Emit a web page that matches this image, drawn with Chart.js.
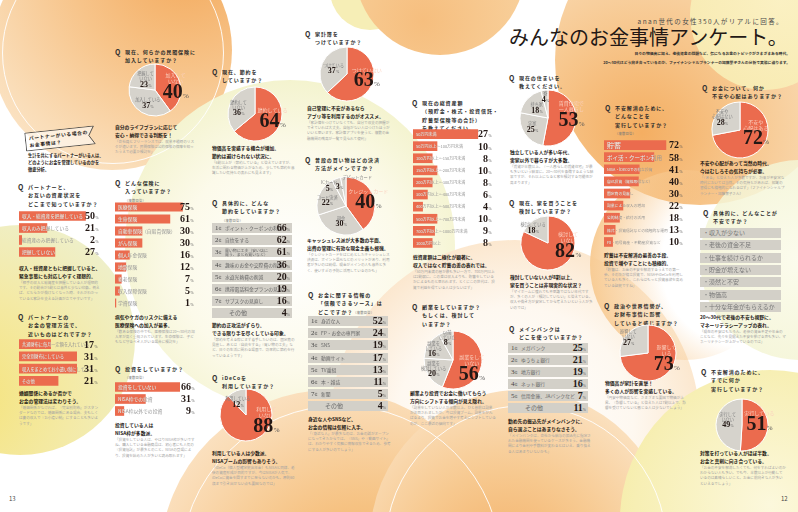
<!DOCTYPE html>
<html lang="ja">
<head>
<meta charset="UTF-8">
<title>みんなのお金事情アンケート</title>
<style>
  html, body { margin: 0; padding: 0; background: #fff; }
  #page { position: relative; width: 798px; height: 512px; overflow: hidden; background: #fff;
          font-family: "Noto Sans CJK JP", "Noto Sans", sans-serif; color: #231815; }
  .bg { position: absolute; border-radius: 50%; }
  .q { position: absolute; font-size: 5px; font-weight: 700; letter-spacing: .9px; line-height: 8.3px; white-space: nowrap; color: #2a2a2a; }
  .q i { position: absolute; left: -10px; top: 0; font-style: normal; font-size: 7px; letter-spacing: 0; color: #333; }
  .q small { font-size: 3.2px; font-weight: 400; letter-spacing: .3px; color: #777; }
  .lead { position: absolute; font-size: 4.8px; font-weight: 700; line-height: 7.6px; white-space: nowrap; color: #231815; }
  .note { position: absolute; font-size: 3.6px; line-height: 5.2px; color: #a2a2a2; }
  .rk { position: absolute; height: 10px; background: #D3D0C8; font-size: 4.8px; line-height: 10px; color: #666; white-space: nowrap; }
  .rk .n { position: absolute; left: 3px; top: 0; font-family: "Liberation Serif", serif; font-size: 7px; color: #444; }
  .rk .n span { font-family: "Noto Sans CJK JP"; font-size: 3px; }
  .rk .t { position: absolute; left: 13px; top: 0; }
  .rk .t2 { position: absolute; left: 13px; top: 1px; font-size: 3.9px; line-height: 4.3px; }
  .rk .v { position: absolute; right: 2px; top: 0; font-family: "Liberation Serif", serif; font-weight: 700; font-size: 10px; color: #231815; }
  .rk .v small { font-size: 3.8px; font-weight: 400; color: #555; }
  .wr { position: absolute; height: 10px; background: #D3D0C8; font-size: 6px; line-height: 10px; color: #777; padding-left: 3px; box-sizing: border-box; }
  canvas { position: absolute; }
</style>
</head>
<body>
<div id="page">
  <!-- 背景の円 -->
  <div class="bg" style="left:330px;top:-50px;width:80px;height:80px;background:#F6EEB6;"></div>
  <div class="bg" style="left:-8px;top:-70px;width:240px;height:240px;background:radial-gradient(circle at 80% 12%, #F3A95B 0%, #F7C48A 40%, #FADDB8 75%, #FCEBD5 100%);"></div>
  <div class="bg" style="left:355px;top:-115px;width:170px;height:170px;background:radial-gradient(circle at 40% 80%, #F6BE7E 0%, #F8CF9A 60%, #FBE2C2 100%);"></div>
  <div class="bg" style="left:125px;top:80px;width:330px;height:330px;background:radial-gradient(circle at 50% 55%, #FFFFFF 0%, #FCFAEA 45%, #F2F2C9 80%, #EAEDB5 100%);"></div>
  <div class="bg" style="left:-95px;top:225px;width:230px;height:230px;background:radial-gradient(circle at 25% 75%, #F5E37A 0%, #F4EAA6 45%, #EEF0CD 85%, #F4F6E2 100%);"></div>
  <div class="bg" style="left:330px;top:240px;width:370px;height:370px;background:radial-gradient(circle at 50% 50%, #FFFFFF 0%, #FEF8F0 45%, #FBE3C6 78%, #F7C995 100%);"></div>
  <div class="bg" style="left:160px;top:390px;width:340px;height:340px;background:radial-gradient(circle at 60% 65%, #F2A85A 0%, #F6C282 35%, #FADCB6 70%, #FDEEDC 100%);"></div>
  <div class="bg" style="left:370px;top:390px;width:300px;height:300px;background:radial-gradient(circle at 45% 60%, #F3AE63 0%, #F7C990 40%, #FBE3C4 80%, #FEF3E6 100%);"></div>
  <div class="bg" style="left:555px;top:-85px;width:290px;height:290px;background:radial-gradient(circle at 30% 75%, #F4AE62 0%, #F7C78E 35%, #FADFBC 70%, #FDF0DE 100%);"></div>
  <div class="bg" style="left:690px;top:-60px;width:150px;height:150px;background:radial-gradient(circle at 60% 40%, #FBF3C4 0%, #F7EDB2 100%);opacity:.9;"></div>
  <div class="bg" style="left:590px;top:170px;width:190px;height:190px;background:radial-gradient(circle at 80% 50%, rgba(255,255,255,0) 45%, #F8CC95 85%, #F5B874 100%);"></div>
  <div class="bg" style="left:700px;top:160px;width:200px;height:200px;background:radial-gradient(circle, #FBFBEA 0%, #F1F2CC 100%);opacity:.85;"></div>
  <div class="bg" style="left:620px;top:370px;width:300px;height:300px;background:radial-gradient(circle at 50% 45%, #FCF8DC 0%, #F7EFB4 60%, #F3E792 100%);"></div>
  <div class="bg" style="left:2px;top:-58px;width:220px;height:220px;border:1.2px solid rgba(255,255,255,.9);background:none;"></div>
  <div class="bg" style="left:180px;top:405px;width:320px;height:320px;border:1.5px solid rgba(255,255,255,.9);background:none;"></div>
  <div class="bg" style="left:385px;top:405px;width:280px;height:280px;border:1.5px solid rgba(255,255,255,.9);background:none;"></div>

  <!-- タイトル -->
  <div style="position:absolute;right:14px;top:16px;font-size:6.5px;letter-spacing:1.4px;color:#4a4a4a;white-space:nowrap;">anan世代の女性350人がリアルに回答。</div>
  <div style="position:absolute;left:509px;top:24px;font-size:20px;line-height:26px;font-weight:400;color:#231815;white-space:nowrap;">みんなのお金事情アンケート。</div>
  <div style="position:absolute;right:8px;top:50px;font-size:3.8px;line-height:8.5px;text-align:right;color:#333;white-space:nowrap;font-weight:700;">日々の物価高に加え、老後資金の問題など、気になるお金のトピックがさまざまある時代。<br>20～30代はどう向き合っているのか、ファイナンシャルプランナーの加藤葉子さんの分析で実態に迫ります。</div>

  <!-- 左ページ -->
  <div class="q" style="left:125px;top:48px;"><i>Q</i>現在、何らかの民間保険に<br>加入していますか？</div>
  <div class="lead" style="left:115px;top:123px;">自分のライフプランに応じて<br>安心・納得できる判断を！</div>
  <div class="note" style="left:115px;top:139px;width:82px;">「会社員とフリーランスでは、就業不能時のリスクが違います。民間保険は公的保険の保障を知ったうえで必要か検討を」</div>

  <div style="position:absolute;left:25px;top:129px;width:70px;height:19px;transform:rotate(-6deg);">
    <svg width="70" height="19" style="position:absolute;left:0;top:0;"><polygon points="0.5,0.5 69.5,0.5 64,9.5 69.5,18.5 0.5,18.5" fill="rgba(255,255,255,.55)" stroke="#333" stroke-width=".8"/></svg>
    <div style="position:absolute;left:4px;top:2px;font-size:4.8px;font-weight:700;line-height:7px;letter-spacing:.6px;white-space:nowrap;">パートナーがいる場合の<br>お金事情は？</div>
  </div>
  <div class="lead" style="left:28px;top:152px;font-size:4.2px;line-height:7px;">生計を共にするパートナーがいる人は、<br>どのようにお金を管理しているのかを<br>徹底分析。</div>

  <div class="q" style="left:28px;top:183px;"><i>Q</i>パートナーと、<br>お互いの資産状況を<br>どこまで知っていますか？</div>
  <div class="lead" style="left:19px;top:264px;">収入・総資産ともに把握していると、<br>緊急事態にも対応しやすく理想的。</div>
  <div class="note" style="left:19px;top:280px;width:82px;">「相手の収入と総資産を把握している人が理想的です。その割合が5割とは意外と少ない印象。例えば、どちらかが働けなくなった時、それがわかっていると家計を支える計画が立てやすいです」</div>

  <div class="q" style="left:28px;top:313px;"><i>Q</i>パートナーとの<br>お金の管理方法で、<br>近いものはどれですか？</div>
  <div class="lead" style="left:19px;top:389px;">婚姻関係にあるか否かで<br>お金の管理法は変わりそう。</div>
  <div class="note" style="left:19px;top:405px;width:82px;">「婚姻関係がなければ、『完全別財布』がスタンダードなのでは。婚姻関係にある場合、夫もしくは妻の収入で『お小遣い制』にすることも多いようです」</div>

  <div class="q" style="left:125px;top:179px;"><i>Q</i>どんな保険に<br>入っていますか？<br><small>（複数回答）</small></div>
  <div class="lead" style="left:115px;top:313px;">病気やケガのリスクに備える<br>医療保険への加入が最多。</div>
  <div class="note" style="left:115px;top:329px;width:82px;">「数ある保険の中でも、医療保険は20～30代の加入率が高く重視されています。生命保険は、子どもなど守るべき人がいる場合に検討を」</div>

  <div class="q" style="left:125px;top:365px;"><i>Q</i>投資をしていますか？<br><small>（複数回答）</small></div>
  <div class="lead" style="left:115px;top:421px;">投資している人は<br>NISA枠が多数派。</div>
  <div class="note" style="left:115px;top:437px;width:82px;">「投資をしている人は、やはりNISA枠が多いですね。購入している金融商品は、初心者にも人気の『投資信託』が最多とのこと。NISAの登場により、投資を始めた人が多いと読み取れます」</div>

  <div class="q" style="left:222px;top:68px;"><i>Q</i>現在、節約を<br>していますか？</div>
  <div class="lead" style="left:212px;top:144px;">物価高を実感する機会が増加。<br>節約は避けられない状況に。</div>
  <div class="note" style="left:212px;top:160px;width:84px;">「6割以上が『節約している』と答えていますが、生活に関わる物価が上がるため、少しでも節約を意識したい気持ちの表れにも見えます」</div>

  <div class="q" style="left:315px;top:30px;"><i>Q</i>家計簿を<br>つけていますか？</div>
  <div class="lead" style="left:307px;top:104px;">自己管理に不安があるなら<br>アプリ等を利用するのがオススメ。</div>
  <div class="note" style="left:307px;top:120px;width:84px;">「家計簿をつけていなくても、自分で収支の把握ができていれば大丈夫。自信がない人はつけたほうがいいと思います。家計簿アプリを使うと、複数の金融機関の残高が一覧で見られて便利」</div>

  <div class="q" style="left:222px;top:199px;"><i>Q</i>具体的に、どんな<br>節約をしていますか？<br><small>（複数回答）</small></div>
  <div class="lead" style="left:212px;top:321px;">節約の正攻法がずらり。<br>できる限り手を尽くしている印象。</div>
  <div class="note" style="left:212px;top:337px;width:84px;">「節約を考える際にまず着手したいのは、固定費の見直し。あとは『自炊をする』『買い物の工夫』など、日々の生活に関わる場面で、効率的に節約を行っているようです」</div>

  <div class="q" style="left:315px;top:156px;"><i>Q</i>普段の買い物はどの決済<br>方法がメインですか？</div>
  <div class="lead" style="left:307px;top:236px;">キャッシュレス派が大多数の半面、<br>出費の管理に有効な現金主義も根強。</div>
  <div class="note" style="left:307px;top:252px;width:84px;">「クレジットカードをはじめとしたキャッシュレス決済は、ポイント還元などのメリットがあり、利用者が多いのは納得。現金がメインの人も意外と多く、使いすぎの予防に活用しているのかも」</div>

  <div class="q" style="left:318px;top:291px;"><i>Q</i>お金に関する情報の<br>「信頼できるソース」は<br>どこですか？<small>（複数回答）</small></div>
  <div class="lead" style="left:308px;top:415px;">身近な人やSNSなど、<br>お金の情報は気軽に入手。</div>
  <div class="note" style="left:308px;top:431px;width:84px;">「『身近な人』が最多なのは、お金の話がオープンになってきたからでは。『SNS』や『動画サイト』は、わかりやすく気軽に情報収集できるため、参考にする人が多いのでしょう」</div>

  <div class="q" style="left:222px;top:374px;"><i>Q</i>iDeCoを<br>利用していますか？</div>
  <div class="lead" style="left:212px;top:449px;">利用している人は少数派。<br>NISAブームの影響もありそう。</div>
  <div class="note" style="left:212px;top:465px;width:84px;">「iDeCo（個人型確定拠出年金）もNISAと同様、老後の資産形成が目的ですが、今はNISAが人気で、iDeCoに資金を回すまでに至らないのかも。原則60歳まで引き出せない点も要因なのでは」</div>

  <div style="position:absolute;left:9px;top:494px;font-size:6px;color:#444;">13</div>

  <!-- 右ページ -->
  <div class="q" style="left:422px;top:99px;"><i>Q</i>現在の総資産額<br>（預貯金・株式・投資信託・<br>貯蓄型保険等の合計）<br>を教えてください。</div>
  <div class="lead" style="left:413px;top:253px;">総資産額は二極化が顕著に。<br>収入ではなく貯蓄の差の表れでは。</div>
  <div class="note" style="left:413px;top:269px;width:84px;">「50万円未満の層が最も多い一方で、700万円以上は2割弱に。この差は収入よりも、貯蓄をしているかによるものと思われます。とくにこの世代は、投資で利益を得ている人は少ないはず」</div>

  <div class="q" style="left:422px;top:303px;"><i>Q</i>副業をしていますか？<br>もしくは、検討して<br>いますか？</div>
  <div class="lead" style="left:410px;top:389px;">副業より投資でお金に働いてもらう<br>方向にシフトする傾向が見え隠れ。</div>
  <div class="note" style="left:410px;top:405px;width:86px;">「副業をしていない人が半数以上。ひと昔前は副業が注目されましたが、今は投資ブーム。副業をがんばるより、投資でお金を増やす考えにシフトしているのが、ここ最近の傾向です」</div>

  <div class="q" style="left:519px;top:74px;"><i>Q</i>現在の住まいを<br>教えてください。</div>
  <div class="lead" style="left:510px;top:148px;">独立している人が多い年代。<br>実家以外で暮らすが大多数。</div>
  <div class="note" style="left:510px;top:164px;width:84px;">「賃貸が半数以上。『一人暮らしの賃貸住宅』が最も多いという結果に。20～30代を象徴するような結果ですが、それ以上になると家を検討する可能性が高まります」</div>

  <div class="q" style="left:519px;top:199px;"><i>Q</i>現在、家を買うことを<br>検討していますか？</div>
  <div class="lead" style="left:510px;top:273px;">検討していない人が8割以上。<br>家を買うことは非現実的な状況？</div>
  <div class="note" style="left:510px;top:289px;width:84px;">「マイホームに憧れても不思議ではない年代ですが、多くの人が『検討していない』と答えている。収入や働き方が安定してから考えたいという人が多いのでは」</div>

  <div class="q" style="left:519px;top:325px;"><i>Q</i>メインバンクは<br>どこを使っていますか？</div>
  <div class="lead" style="left:508px;top:417px;">勤め先の振込先がメインバンクに。<br>自ら選ぶことはあまりなさそう。</div>
  <div class="note" style="left:508px;top:433px;width:84px;">「メインバンクは、会社から給与の振込先に指定された金融機関を使っているケースが多そう。金融機関により金利や手数料が変わるとはいえ、乗り換える人はあまりいないかも」</div>

  <div class="q" style="left:615px;top:104px;"><i>Q</i>不安解消のために、<br>どんなことを<br>実行していますか？<br><small>（複数回答）</small></div>
  <div class="lead" style="left:604px;top:251px;">貯蓄は不安解消の最善の手段。<br>投資で増やすことにも積極的。</div>
  <div class="note" style="left:604px;top:267px;width:82px;">「貯蓄は、お金の不安を解消するうえでの第一歩。その次が積立投資で、NISAやiDeCoを利用している人も多く、これらはもっと投資意欲を高めている証拠ですね」</div>

  <div class="q" style="left:712px;top:84px;"><i>Q</i>お金について、何か<br>不安や心配はありますか？</div>
  <div class="lead" style="left:700px;top:159px;">不安や心配があって当然の時代。<br>今はむしろその気持ちが必要。</div>
  <div class="note" style="left:700px;top:175px;width:86px;">「『ある』と答えた人が多数ですが、将来が不安定な時代においては当然。その気持ちがあれば、知識の習得にも積極的になれるはず」（ファイナンシャルプランナー・加藤葉子さん）</div>

  <div class="q" style="left:713px;top:209px;"><i>Q</i>具体的に、どんなことが<br>不安ですか？</div>
  <div class="lead" style="left:700px;top:313px;">20～30代で老後の不安も視野に。<br>マネーリテラシーアップの表れ。</div>
  <div class="note" style="left:700px;top:329px;width:86px;">「現在の不安はもちろん、老後の資金不足や年金のことなど、先々を見据えた不安を挙げる声も多い。マネーリテラシーが上がっているのでは」</div>

  <div class="q" style="left:614px;top:302px;"><i>Q</i>政治や世界情勢が、<br>お財布事情に影響<br>していると感じますか？</div>
  <div class="lead" style="left:605px;top:379px;">物価高が家計を直撃！<br>多くの人が影響を実感している。</div>
  <div class="note" style="left:605px;top:395px;width:82px;">「円安や物価高など、さまざまな要因で物価が上昇。『影響している』と答えた人は7割以上で、影響を受けていないと感じる人は少ないでしょう」</div>

  <div class="q" style="left:711px;top:368px;"><i>Q</i>不安解消のために、<br>すでに何か<br>実行していますか？</div>
  <div class="lead" style="left:700px;top:449px;">対策を打っている人がほぼ半数。<br>お金と真剣に向き合っている。</div>
  <div class="note" style="left:700px;top:465px;width:86px;">「お金の不安を解消したくても、何をすればよいのかわからない人も多い。でも今、半数以上が行動しているのは素晴らしいこと。お金に前向きな人が多いといえるでしょう」</div>

  <div style="position:absolute;left:781px;top:494px;font-size:6px;color:#444;">12</div>
</div>

<script src="https://cdn.jsdelivr.net/npm/chart.js"></script>
<script>
// ---- データ ----
// 円グラフ（先頭が赤いスライス）
var hokenLabels = ['加入して\nいない', '加入している', '把握して\nいない'];
var hokenValues = [40, 37, 23];
var setsuyakuLabels = ['節約している', '節約して\nいない'];
var setsuyakuValues = [64, 36];
var kakeiboLabels = ['つけていない', 'つけている'];
var kakeiboValues = [63, 37];
var kessaiLabels = ['クレジットカード', '現金', 'コード決済', 'ICカード', 'デビットカード'];
var kessaiValues = [40, 30, 22, 5, 3];
var idecoLabels = ['利用して\nいない', '利用している'];
var idecoValues = [88, 12];
var sumaiLabels = ['賃貸住宅で\n一人暮らし', '実家', '持ち家', '寮'];
var sumaiValues = [53, 25, 18, 4];
var ieLabels = ['検討して\nいない', '検討している'];
var ieValues = [82, 18];
var fukugyoLabels = ['副業をして\nいない', '副業を\n検討している', '副業を\nしている', '以前\nしていた'];
var fukugyoValues = [56, 20, 16, 8];
var fuanLabels = ['不安や\n心配はある', '不安や\n心配はない'];
var fuanValues = [72, 28];
var seijiLabels = ['影響して\nいる', '影響して\nいない'];
var seijiValues = [73, 27];
var jikkoLabels = ['実行している', '実行して\nいない'];
var jikkoValues = [51, 49];

// 横棒グラフ
var partnerLabels = ['収入・総資産を把握している', '収入のみ把握している', '総資産のみ把握している', '把握していない'];
var partnerValues = [50, 21, 2, 27];
var kanriLabels = ['共通財布に毎月一定額を入れている', '完全別財布にしている', '収入をまとめてお小遣い制にしている', 'その他'];
var kanriValues = [17, 31, 31, 21];
var hokenTypeLabels = ['医療保険', '生命保険', '自動車保険（自賠責保険）', 'がん保険', '個人年金保険', '地震保険', '養老保険', '収入保障保険', '学資保険'];
var hokenTypeValues = [75, 61, 30, 30, 16, 12, 7, 5, 1];
var toshiLabels = ['投資をしていない', 'NISA枠での投資', 'NISA枠以外での投資'];
var toshiValues = [66, 31, 9];
var shisanLabels = ['50万円未満', '50万円以上～100万円未満', '100万円以上～150万円未満', '150万円以上～200万円未満', '200万円以上～300万円未満',
  '300万円以上～400万円未満', '400万円以上～500万円未満', '500万円以上～700万円未満', '700万円以上～1000万円未満', '1000万円以上'];
var shisanValues = [27, 10, 8, 10, 8, 6, 4, 10, 9, 8];
var taisakuLabels = ['貯蓄', 'ポイ活・クーポン利用', 'NISA・iDeCoでの積立投資', '自己投資（資格取得など）', '固定費の見直し',
  '副業による収入の増加', '公的制度・給付の活用', '株式・投資信託などの積極的な運用', 'FX・暗号資産・不動産投資など'];
var taisakuValues = [72, 58, 41, 40, 30, 22, 18, 13, 10];

// ランキング表
var setsuyakuRankLabels = ['ポイント・クーポンの利用', '自炊をする', '買い物に工夫（安い店に\n買う、まとめ買いなど）', '趣味のお金や交際費の削減', '水道光熱費の削減', '携帯電話料金プランの見直し', 'サブスクの見直し', 'その他'];
var setsuyakuRankValues = [66, 62, 61, 36, 20, 19, 16, 4];
var sourceLabels = ['身近な人', 'FP・お金の専門家', 'SNS', '動画サイト', 'TV番組', '本・雑誌', '新聞', 'その他'];
var sourceValues = [52, 24, 19, 17, 13, 11, 5, 4];
var bankLabels = ['メガバンク', 'ゆうちょ銀行', '地方銀行', 'ネット銀行', '信用金庫、JAバンクなど', 'その他'];
var bankValues = [25, 21, 19, 16, 7, 11];
var worryItems = ['収入が少ない', '老後の資金不足', '仕事を続けられるか', '貯金が増えない', '漠然と不安', '物価高', '十分な年金がもらえるか'];

var RED = '#EB6B4E';
var GRAY = '#D6D3CC';
var page = document.getElementById('page');
var SANS = '"Noto Sans CJK JP", sans-serif';
var SERIF = '"Liberation Serif", serif';

// 数字＋％を描く
function drawPct(ctx, x, y, num, big) {
  var nf = big ? 'bold 20px ' + SERIF : 'bold 8px ' + SERIF;
  var pf = big ? '7px ' + SERIF : '3.6px ' + SERIF;
  ctx.font = nf;
  var wn = ctx.measureText(num).width;
  ctx.font = pf;
  var wp = ctx.measureText('%').width;
  var left = x - (wn + wp) / 2;
  var base = y + (big ? 6.6 : 2.7);
  ctx.textAlign = 'left';
  ctx.textBaseline = 'alphabetic';
  ctx.fillStyle = '#231815';
  ctx.font = nf;
  ctx.fillText(num, left, base);
  ctx.fillStyle = '#555';
  ctx.font = pf;
  ctx.fillText('%', left + wn + 0.4, base);
}

// 円グラフのラベル
var pieText = {
  id: 'pieText',
  afterDatasetsDraw: function (chart, args, opts) {
    var ctx = chart.ctx;
    var meta = chart.getDatasetMeta(0);
    var vals = chart.data.datasets[0].data;
    meta.data.forEach(function (arc, i) {
      var p = (opts.pos && opts.pos[i]) || {};
      var mid = (arc.startAngle + arc.endAngle) / 2;
      var f = p.f || 0.55;
      var x = arc.x + Math.cos(mid) * arc.outerRadius * f + (p.dx || 0);
      var y = arc.y + Math.sin(mid) * arc.outerRadius * f + (p.dy || 0);
      var lines = chart.data.labels[i].split('\n');
      ctx.save();
      ctx.textAlign = 'center';
      ctx.textBaseline = 'middle';
      if (i === 0) {
        ctx.font = '5px ' + SANS;
        ctx.fillStyle = '#FBD0BF';
        lines.forEach(function (t, k) {
          ctx.fillText(t, x + (p.lx || 0), y - 10 - (lines.length - 1 - k) * 6 + (p.ly || 0));
        });
        drawPct(ctx, x, y, String(vals[i]), true);
      } else {
        var h = lines.length * 5 + 6;
        var top = y - h / 2;
        ctx.font = '4.2px ' + SANS;
        ctx.fillStyle = '#808080';
        lines.forEach(function (t, k) {
          ctx.fillText(t, x + (p.lx || 0), top + 2.5 + k * 5 + (p.ly || 0));
        });
        drawPct(ctx, x, top + lines.length * 5 + 3, String(vals[i]), false);
      }
      ctx.restore();
    });
  }
};

function makePie(cx, cy, r, labels, values, pos) {
  var m = 26;
  var size = 2 * r + 2 * m;
  var cv = document.createElement('canvas');
  cv.width = size;
  cv.height = size;
  cv.style.left = (cx - r - m) + 'px';
  cv.style.top = (cy - r - m) + 'px';
  page.appendChild(cv);
  var colors = values.map(function (v, i) { return i === 0 ? RED : GRAY; });
  return new Chart(cv, {
    type: 'pie',
    data: { labels: labels, datasets: [{ data: values, backgroundColor: colors, borderColor: '#fff', borderWidth: 1, radius: r }] },
    options: {
      responsive: false, animation: false, layout: { padding: m },
      plugins: { legend: { display: false }, tooltip: { enabled: false }, pieText: { pos: pos } }
    },
    plugins: [pieText]
  });
}

// 横棒グラフのラベル
var barText = {
  id: 'barText',
  afterDatasetsDraw: function (chart, args, opts) {
    var ctx = chart.ctx;
    var meta = chart.getDatasetMeta(0);
    var vals = chart.data.datasets[0].data;
    meta.data.forEach(function (bar, i) {
      var label = chart.data.labels[i];
      var top = bar.y - bar.height / 2;
      var fs = (opts.sizes && opts.sizes[i]) || opts.size;
      ctx.save();
      ctx.font = fs + 'px ' + SANS;
      ctx.textAlign = 'left';
      ctx.textBaseline = 'middle';
      ctx.fillStyle = '#959595';
      ctx.fillText(label, bar.base + 3, bar.y + 0.3);
      ctx.beginPath();
      ctx.rect(bar.base, top, bar.x - bar.base, bar.height);
      ctx.clip();
      ctx.fillStyle = '#FDE3D8';
      ctx.fillText(label, bar.base + 3, bar.y + 0.3);
      ctx.restore();
      // 値
      ctx.save();
      ctx.textBaseline = 'alphabetic';
      ctx.textAlign = 'right';
      ctx.fillStyle = '#231815';
      ctx.font = 'bold 10px ' + SERIF;
      ctx.fillText(String(vals[i]), opts.valX, bar.y + 3.4);
      ctx.textAlign = 'left';
      ctx.fillStyle = '#555';
      ctx.font = '3.8px ' + SERIF;
      ctx.fillText('%', opts.valX + 0.5, bar.y + 3.4);
      ctx.restore();
    });
  }
};

function makeBars(x, firstY, rowH, barH, ppu, valX, labels, values, size, sizes) {
  var n = values.length;
  var w = valX + 8 - x;
  var h = Math.round(n * rowH);
  var cv = document.createElement('canvas');
  cv.width = w;
  cv.height = h;
  cv.style.left = x + 'px';
  cv.style.top = Math.round(firstY - rowH / 2) + 'px';
  page.appendChild(cv);
  return new Chart(cv, {
    type: 'bar',
    data: { labels: labels, datasets: [{ data: values, backgroundColor: RED, barThickness: barH, borderWidth: 0 }] },
    options: {
      indexAxis: 'y', responsive: false, animation: false, layout: { padding: 0 },
      scales: { x: { display: false, min: 0, max: w / ppu }, y: { display: false } },
      plugins: { legend: { display: false }, tooltip: { enabled: false }, barText: { valX: valX - x, size: size, sizes: sizes } }
    },
    plugins: [barText]
  });
}

// ランキング表（HTML）
function makeRank(x, firstY, w, rowH, labels, values) {
  labels.forEach(function (t, i) {
    var d = document.createElement('div');
    d.className = 'rk';
    d.style.left = x + 'px';
    d.style.top = Math.round(firstY - 5 + i * rowH) + 'px';
    d.style.width = w + 'px';
    var last = (t === 'その他');
    var two = t.indexOf('\n') >= 0;
    d.innerHTML = (last ? '' : '<span class="n">' + (i + 1) + '<span>位</span></span>') +
      '<span class="' + (two ? 't2' : 't') + '" style="' + (last ? 'left:17px;font-size:6px;' : '') + '">' + t.replace('\n', '<br>') + '</span>' +
      '<span class="v">' + values[i] + '<small>%</small></span>';
    page.appendChild(d);
  });
}

function makeList(x, firstY, w, rowH, items) {
  items.forEach(function (t, i) {
    var d = document.createElement('div');
    d.className = 'wr';
    d.style.left = x + 'px';
    d.style.top = Math.round(firstY - 5 + i * rowH) + 'px';
    d.style.width = w + 'px';
    d.textContent = '・' + t;
    page.appendChild(d);
  });
}

// ---- 描画 ----
makePie(155, 90, 26, hokenLabels, hokenValues, [{ dx: 7, dy: 6 }, {}, {}]);
makePie(255, 114, 27, setsuyakuLabels, setsuyakuValues, [{ dx: 4 }, { dx: -3 }]);
makePie(347, 74, 27, kakeiboLabels, kakeiboValues, [{ dx: 6 }, {}]);
makePie(346, 206, 29, kessaiLabels, kessaiValues, [{ dx: 7 }, {}, { dx: -4 }, { f: 1.0, dx: -7, dy: 7 }, { f: 1.0, dx: -4, dy: 7, lx: 18, ly: -3.5 }]);
makePie(246, 415, 26, idecoLabels, idecoValues, [{ dx: 15, dy: -3 }, { dx: -3 }]);
makePie(548, 118, 28, sumaiLabels, sumaiValues, [{ dx: 8 }, { dx: -3 }, {}, { f: 0.78 }]);
makePie(548, 243, 27, ieLabels, ieValues, [{ dx: 12, dy: -5 }, { dx: -7, dy: -3 }]);
makePie(453, 360, 29, fukugyoLabels, fukugyoValues, [{ dx: 3, dy: 10 }, { dx: -6 }, { dx: -6, dy: -3 }, { f: 0.8 }]);
makePie(740, 130, 28, fuanLabels, fuanValues, [{ dx: 4, dy: -2 }, { dx: -6, dy: -3 }]);
makePie(648, 353, 28, seijiLabels, seijiValues, [{ dx: 7 }, { dx: -8, dy: -6 }]);
makePie(742, 425, 26, jikkoLabels, jikkoValues, [{ dx: 3, dy: -2 }, { dy: -5 }]);

makeBars(19, 216, 12, 9, 1.33, 95, partnerLabels, partnerValues, 4.7);
makeBars(19, 344, 12.3, 9, 1.86, 94, kanriLabels, kanriValues, 4.2);
makeBars(115, 207, 12, 8.5, 0.9, 190, hokenTypeLabels, hokenTypeValues, 4.8);
makeBars(115, 387, 12, 9, 0.98, 191, toshiLabels, toshiValues, 4.8);
makeBars(413, 134, 12.1, 9, 2.4, 488, shisanLabels, shisanValues, 4);
makeBars(604, 145, 12.1, 9, 0.86, 679, taisakuLabels, taisakuValues, 3.8, [7, 5.5]);

makeRank(212, 228, 80, 12.2, setsuyakuRankLabels, setsuyakuRankValues);
makeRank(308, 321, 80, 12.2, sourceLabels, sourceValues);
makeRank(508, 348, 80, 12, bankLabels, bankValues);
makeList(700, 233, 81, 12.3, worryItems);
</script>
</body>
</html>
